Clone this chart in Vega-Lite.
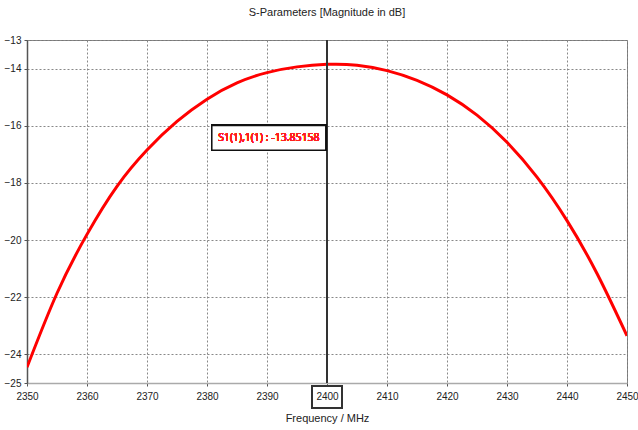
{
  "$schema": "https://vega.github.io/schema/vega-lite/v6.json",
  "width": 600,
  "height": 343,
  "autosize": {"type": "none"},
  "padding": {"left": 27, "top": 40, "right": 11, "bottom": 47},
  "background": "white",
  "title": {"text": "S-Parameters [Magnitude in dB]", "fontSize": 11, "font": "Liberation Sans", "fontWeight": "normal", "color": "#222", "offset": 17, "anchor": "middle"},
  "config": {
    "view": {"stroke": "#777", "strokeWidth": 1},
    "axis": {
      "labelFont": "Liberation Sans", "labelFontSize": 10, "labelColor": "#222",
      "titleFont": "Liberation Sans", "titleFontSize": 11, "titleFontWeight": "normal", "titleColor": "#222",
      "gridColor": "#888", "gridDash": [2, 2], "gridWidth": 1, "gridOpacity": 1,
      "tickColor": "#555", "tickSize": 3, "domainColor": "#555", "domainWidth": 1.5
    }
  },
  "data": {"values": [
    {"freq": 2350, "value": -24.45},
    {"freq": 2355, "value": -21.86},
    {"freq": 2360, "value": -19.8},
    {"freq": 2365, "value": -18.12},
    {"freq": 2370, "value": -16.85},
    {"freq": 2375, "value": -15.85},
    {"freq": 2380, "value": -15.07},
    {"freq": 2385, "value": -14.5},
    {"freq": 2390, "value": -14.14},
    {"freq": 2395, "value": -13.94},
    {"freq": 2400, "value": -13.85},
    {"freq": 2405, "value": -13.88},
    {"freq": 2410, "value": -14.07},
    {"freq": 2415, "value": -14.41},
    {"freq": 2420, "value": -14.92},
    {"freq": 2425, "value": -15.63},
    {"freq": 2430, "value": -16.58},
    {"freq": 2435, "value": -17.8},
    {"freq": 2440, "value": -19.32},
    {"freq": 2445, "value": -21.17},
    {"freq": 2450, "value": -23.35}
  ]},
  "layer": [
    {
      "mark": {"type": "line", "color": "#ff0000", "strokeWidth": 3, "interpolate": "natural", "clip": true},
      "encoding": {
        "x": {"field": "freq", "type": "quantitative",
              "scale": {"domain": [2350, 2450], "nice": false, "zero": false},
              "axis": {"values": [2350, 2360, 2370, 2380, 2390, 2400, 2410, 2420, 2430, 2440, 2450], "format": "d", "title": "Frequency / MHz", "labelPadding": 5, "titlePadding": 11, "domainColor": "#aaa", "labelFlush": false}},
        "y": {"field": "value", "type": "quantitative",
              "scale": {"domain": [-25, -13], "nice": false, "zero": false},
              "axis": {"values": [-13, -14, -16, -18, -20, -22, -24, -25], "title": null, "labelPadding": 3}}
      }
    },
    {
      "mark": {"type": "rule", "color": "#333", "strokeWidth": 1.3},
      "encoding": {"x": {"datum": 2400}}
    },
    {
      "mark": {"type": "rect", "fill": "white", "stroke": "#111", "strokeWidth": 1.5},
      "encoding": {"x": {"datum": 2380.8}, "x2": {"datum": 2399.8}, "y": {"datum": -15.99}, "y2": {"datum": -16.86}}
    },
    {
      "mark": {"type": "text", "color": "#ff2020", "font": "Open Sans", "fontWeight": "normal", "fontSize": 10.5, "align": "center", "baseline": "middle"},
      "encoding": {"x": {"datum": 2390.3}, "y": {"datum": -16.42}, "text": {"value": "S1(1),1(1) : -13.85158"}}
    },
    {
      "mark": {"type": "point", "shape": "M-1,-0.75L1,-0.75L1,0.75L-1,0.75Z", "size": 900, "filled": false, "stroke": "#333", "strokeWidth": 1.5, "opacity": 1, "yOffset": 14, "clip": false},
      "encoding": {"x": {"datum": 2400}, "y": {"datum": -25}}
    }
  ]
}
